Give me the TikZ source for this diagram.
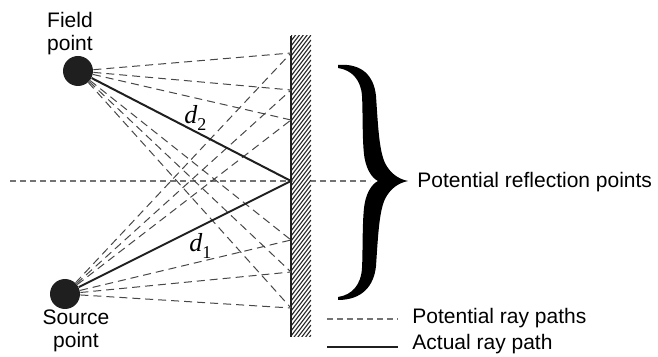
\documentclass[tikz,border=0pt]{standalone}
\usepackage{fontspec}
\setmainfont{Liberation Sans}
\newfontfamily\seriffam{Liberation Serif}
\begin{document}
\begin{tikzpicture}[x=0.5pt,y=-0.5pt,
  dot/.style={circle, fill=black!88, minimum size=15pt, inner sep=0pt},
  potray/.style={draw=black!72, line width=0.5pt, dash pattern=on 4pt off 2.5pt},
  actray/.style={draw=black!88, line width=1pt},
  axisline/.style={draw=black!55, line width=0.6pt, dash pattern=on 3pt off 2pt},
  legsolid/.style={draw=black!88, line width=1.4pt},
  hatchline/.style={draw=black!85, line width=0.55pt},
  walledge/.style={draw=black!88, line width=0.9pt},
  lbl/.style={font=\fontsize{10.5}{11.5}\selectfont, inner sep=0pt},
  dlbl/.style={font=\seriffam\itshape\fontsize{13}{14}\selectfont, inner sep=0pt}]
\useasboundingbox (0,0) rectangle (658,357);

% reference horizontal line
\coordinate (hl) at (10,181);
\coordinate (hr) at (370,181);
\draw[axisline] (hl) -- (hr);

% wall
\fill[white] (292,36) rectangle (311,337);
\begin{scope}
  \clip (291,36) rectangle (311,337);
  \foreach \k in {0,...,68} {
    \draw[hatchline] (291,{36+5*\k}) -- ++(20,-26);
  }
\end{scope}
\coordinate (wt) at (291,36);
\coordinate (wb) at (291,337);
\draw[walledge] (wt) -- (wb);

% points
\node[dot] (F) at (78,71) {};
\node[dot] (S) at (65,294) {};

\coordinate (r1) at (291,53);
\coordinate (r2) at (291,90);
\coordinate (r3) at (291,120);
\coordinate (r4) at (291,181);
\coordinate (r5) at (291,240);
\coordinate (r6) at (291,272);
\coordinate (r7) at (291,308);

\foreach \r in {r1,r2,r3,r5,r6,r7} {
  \draw[potray] (F) -- (\r);
  \draw[potray] (S) -- (\r);
}
\draw[actray] (F) -- (r4) -- (S);

% brace
\fill[black] (338,65) .. controls (362,63) and (374,76) .. (376,96)
  .. controls (378,125) and (379,150) .. (385,163)
  .. controls (390,173) and (398,179) .. (408,181)
  .. controls (398,183) and (390,189) .. (385,199)
  .. controls (379,212) and (378,237) .. (376,266)
  .. controls (374,286) and (362,300) .. (338,300)
  -- (338,297)
  .. controls (352,295) and (361,285) .. (362,268)
  .. controls (363,250) and (362,215) .. (365,202)
  .. controls (367,192) and (372,184) .. (378,181)
  .. controls (372,178) and (367,170) .. (365,160)
  .. controls (362,148) and (363,112) .. (362,96)
  .. controls (361,80) and (352,70) .. (338,68)
  -- cycle;

% labels
\node[lbl, align=center, anchor=north] (fieldlbl) at (70,12) {Field\\point};
\node[lbl, align=center, anchor=north] (sourcelbl) at (76,309) {Source\\point};
\node[lbl, anchor=base west] (refl) at (417,188) {Potential reflection points};
\node[dlbl, anchor=base west] (d2) at (184,124) {d\raisebox{-3.5pt}{\fontsize{9}{10}\selectfont\upshape 2}};
\node[dlbl, anchor=base west] (d1) at (189,252) {d\raisebox{-3.5pt}{\fontsize{9}{10}\selectfont\upshape 1}};

% legend
\coordinate (l1a) at (327,319);
\coordinate (l1b) at (398,319);
\coordinate (l2a) at (327,347);
\coordinate (l2b) at (398,347);
\draw[axisline] (l1a) -- (l1b);
\draw[legsolid] (l2a) -- (l2b);
\node[lbl, anchor=base west] (leg1) at (412,324) {Potential ray paths};
\node[lbl, anchor=base west] (leg2) at (412,350) {Actual ray path};
\end{tikzpicture}
\end{document}
